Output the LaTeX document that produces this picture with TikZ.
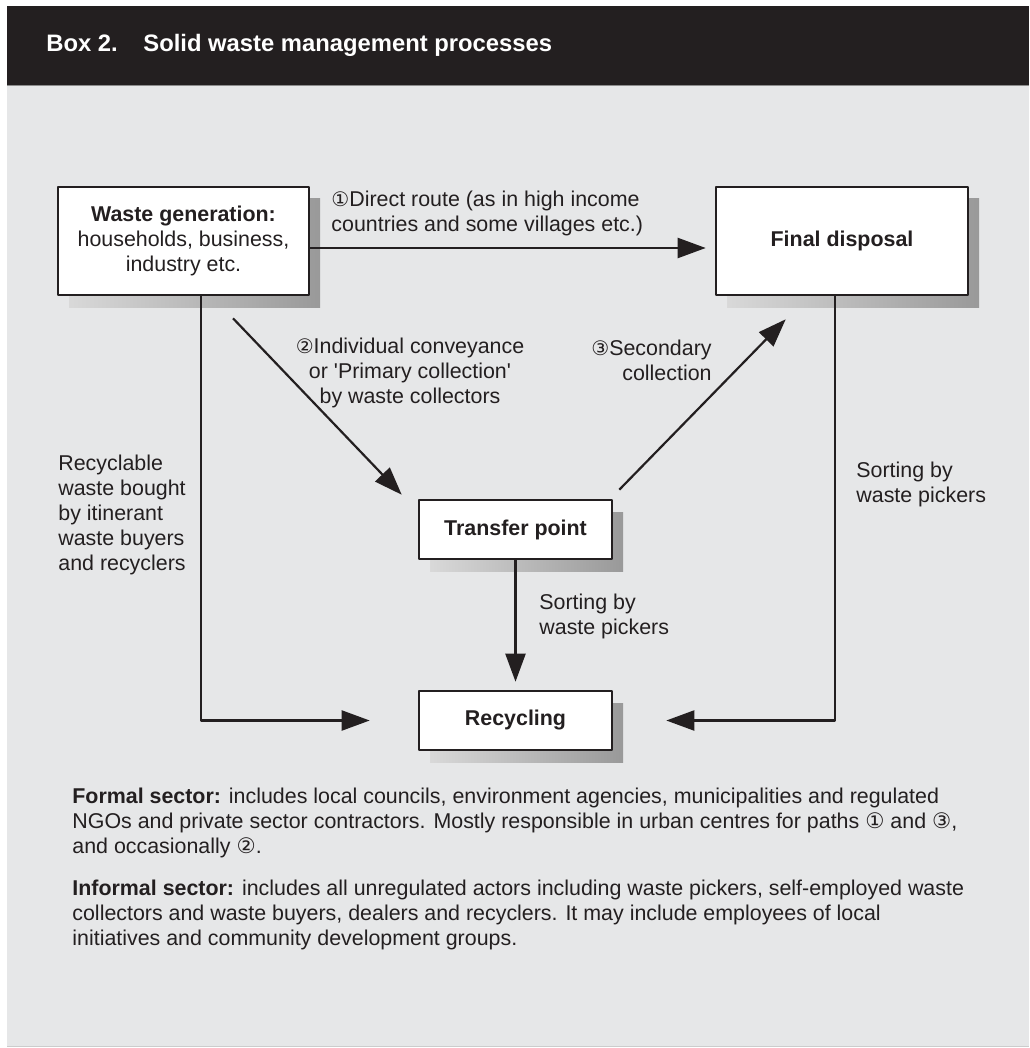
\documentclass[tikz,border=0pt]{standalone}
\usepackage{fontspec}
\setmainfont{Liberation Sans}
\newfontfamily\dejavu{DejaVu Sans}
\usetikzlibrary{arrows.meta,calc,shadows}
\definecolor{panel}{HTML}{E6E7E8}
\definecolor{ink}{HTML}{231F20}
\newcommand{\circnum}[1]{{\dejavu\fontsize{10}{10}\selectfont#1}}
\tikzset{
	stage/.style={draw=ink, line width=1.3pt, fill=white, inner sep=0pt, align=center, text=ink,
		general shadow={shadow xshift=5.5pt, shadow yshift=-6pt, left color=black!15, right color=black!40}},
	flow/.style={draw=ink, line width=1.1pt, -{Triangle[length=14pt,width=10pt]}},
	note/.style={inner sep=0pt, text=ink},
	heading/.style={anchor=base west, inner sep=0pt, text=white, font=\fontsize{11.9}{14}\selectfont\bfseries}
}
\begin{document}
\begin{tikzpicture}[x=0.5pt, y=-0.5pt, font=\fontsize{10.7}{12.5}\selectfont, line join=round]
	\useasboundingbox (0,0) rectangle (1029,1048);
	% panel and heading
	\fill[panel] (7,6) rectangle (1029,1047);
	\fill[ink] (7,6) rectangle (1029,85);
	\draw[black!45, line width=0.6pt] (7,85.5) -- (1029,85.5);
	\draw[black!20, line width=0.6pt] (7,1046.5) -- (1029,1046.5);
	\node[heading] (boxno) at (46,52) {Box 2.};
	\node[heading] (title) at (143,52) {Solid waste management processes};
	% stages
	\node[stage, minimum width=125.5pt, minimum height=54pt] (wg) at (183.5,241) {\textbf{Waste generation:}\\households, business,\\industry etc.};
	\node[stage, minimum width=126pt, minimum height=54pt] (fd) at (842,241) {\textbf{Final disposal}};
	\node[stage, minimum width=96.5pt, minimum height=29.5pt] (tp) at (515.5,529.5) {\textbf{Transfer point}};
	\node[stage, minimum width=96.5pt, minimum height=29.5pt] (rc) at (515.5,720.5) {\textbf{Recycling}};
	\path 
	($(wg.south)+(49.5,22)$) coordinate (p2)
	($(tp.north west)+(-16,-4)$) coordinate (q2)
	($(tp.north east)+(6,-9)$) coordinate (p3)
	($(fd.south west)+(71,23)$) coordinate (q3)
	;
	% routes
	\draw[flow, shorten >=4.5pt] ($(wg.east)+(0,7)$) -- ($(fd.west)+(0,7)$);
	\draw[flow] (p2) -- (q2);
	\draw[flow] (p3) -- (q3);
	\draw[flow, shorten >=24pt] ($(wg.south)+(17.5,0)$) |- (rc.west);
	\draw[flow, shorten >=26.5pt] ($(fd.south)+(-7,0)$) |- (rc.east);
	\draw[flow, shorten >=4pt] (tp.south) -- (rc.north);
	% labels
	\node[note, anchor=west, align=left] (direct) at (331,213.5) {\circnum{①}Direct route (as in high income\\countries and some villages etc.)};
	\node[note, align=center] (primary) at (410,373) {\circnum{②}Individual conveyance\\or \textquotesingle Primary collection\textquotesingle\\by waste collectors};
	\node[note, anchor=east, align=right] (second) at (712,360.5) {\circnum{③}Secondary\\collection};
	\node[note, anchor=west, align=left] (sortfd) at (856,484.5) {Sorting by\\waste pickers};
	\node[note, anchor=west, align=left] (sorttp) at (539,616.5) {Sorting by\\waste pickers};
	\node[note, anchor=west, align=left] (buyers) at (58,514.5) {Recyclable\\waste bought\\by itinerant\\waste buyers\\and recyclers};
	% sectors
	\node[note, anchor=north west, align=left] (formal) at (72,788) {\textbf{Formal sector:} includes local councils, environment agencies, municipalities and regulated\\NGOs and private sector contractors. Mostly responsible in urban centres for paths {\dejavu ①} and {\dejavu ③},\\and occasionally {\dejavu ②}.};
	\node[note, anchor=north west, align=left] (informal) at (72,880) {\textbf{Informal sector:} includes all unregulated actors including waste pickers, self-employed waste\\collectors and waste buyers, dealers and recyclers. It may include employees of local\\initiatives and community development groups.};
\end{tikzpicture}
\end{document}
